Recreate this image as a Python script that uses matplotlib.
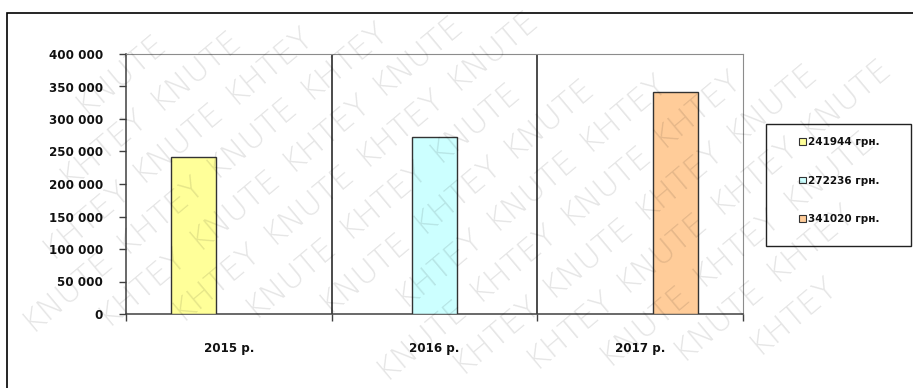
import numpy as np
import matplotlib
matplotlib.use('Agg')
import matplotlib.pyplot as plt
from matplotlib.patches import Rectangle, Patch
from matplotlib.ticker import FuncFormatter, FixedLocator

# ---- data ----
categories = ['2015 р.', '2016 р.', '2017 р.']
values = [241944, 272236, 341020]
series_labels = ['241944 грн.', '272236 грн.', '341020 грн.']
colors = ['#FFFF99', '#CCFFFF', '#FFCC99']
yticks = [0, 50000, 100000, 150000, 200000, 250000, 300000, 350000, 400000]
watermark_words = ['KHTEY', 'KNUTE']

W, H = 913, 388
plt.rcParams['font.family'] = ['DejaVu Sans']
fig = plt.figure(figsize=(W / 100, H / 100), dpi=100)
fig.patch.set_facecolor('white')

# outer frame
fig.patches.append(Rectangle((7 / W, -0.1), 1.2, 1 - 13 / H + 0.1, transform=fig.transFigure,
                             fill=False, edgecolor='black', linewidth=1.2, zorder=1))

ax = fig.add_axes([126 / W, 1 - 314 / H, (743 - 126) / W, (314 - 54) / H])
ax.set_facecolor('none')

bar_w = 0.219
step = 0.171
handles = []
for i, (v, c, lab) in enumerate(zip(values, colors, series_labels)):
    ax.bar(i + (i - 1) * step, v, width=bar_w, color=c, edgecolor='#333333', linewidth=1.0, zorder=3)
    handles.append(Patch(facecolor=c, edgecolor='#333333', linewidth=0.8, label=lab))

ax.set_xlim(-0.5, len(categories) - 0.5)
ax.set_ylim(0, 400000)

# category separators (gridlines)
for b in np.arange(0.5, len(categories) - 0.5, 1.0):
    ax.axvline(b, color='#1a1a1a', linewidth=1.1, zorder=2)

ax.yaxis.set_major_locator(FixedLocator(yticks))
ax.yaxis.set_major_formatter(FuncFormatter(lambda v, p: f'{int(v):,}'.replace(',', ' ')))
ax.set_xticks(range(len(categories)))
ax.set_xticklabels(categories)
ax.set_xticks(np.arange(-0.5, len(categories), 1.0), minor=True)

ax.tick_params(axis='y', direction='out', length=5, width=1, color='#404040', pad=11.5,
               labelsize=8.6, labelcolor='#111111')
ax.tick_params(axis='x', which='major', length=0, pad=20, labelsize=8.6, labelcolor='#111111')
ax.tick_params(axis='x', which='minor', direction='out', length=5, width=1, color='#404040')
for t in ax.get_yticklabels() + ax.get_xticklabels():
    t.set_fontweight('bold')

ax.spines['left'].set_color('#404040')
ax.spines['bottom'].set_color('#404040')
ax.spines['left'].set_linewidth(1.1)
ax.spines['bottom'].set_linewidth(1.1)
ax.spines['top'].set_color('#8c8c8c')
ax.spines['right'].set_color('#8c8c8c')

# legend box
fig.patches.append(Rectangle((766 / W, 1 - 246 / H), (911 - 766) / W, (246 - 124) / H,
                             transform=fig.transFigure, fill=False, edgecolor='#222222',
                             linewidth=1.0, zorder=2))
leg = fig.legend(handles=handles, loc='upper left', bbox_to_anchor=(799 / W, 1 - 137 / H),
                 frameon=False, borderpad=0, borderaxespad=0, handlelength=0.65,
                 handleheight=0.65, handletextpad=0.25, labelspacing=2.75,
                 prop={'size': 7.5, 'weight': 'bold'})
for t in leg.get_texts():
    t.set_color('#111111')

# watermark: individual words on a rotated lattice, only where fully inside
ang = 40
rad = np.deg2rad(ang)
d = np.array([np.cos(rad), np.sin(rad)])
n = np.array([-np.sin(rad), np.cos(rad)])
word_w, word_h = 112, 30
row_sp, col_sp = 44, 120
half = np.abs(d) * word_w / 2 + np.abs(n) * word_h / 2
origin = np.array([W / 2, H / 2])
for r in range(-14, 15):
    for c in range(-10, 11):
        off = (r % 2) * col_sp / 2
        p = origin + (c * col_sp + off) * d + r * row_sp * n
        if p[0] - half[0] < 0 or p[0] + half[0] > W or p[1] - half[1] < 0 or p[1] + half[1] > H:
            continue
        word = watermark_words[(c + r) % 2]
        fig.text(p[0] / W, p[1] / H, word, rotation=ang, rotation_mode='anchor',
                 ha='center', va='center', fontsize=23, fontweight='light',
                 color='black', alpha=0.1, zorder=10)

fig.savefig('out.png', dpi=100)
